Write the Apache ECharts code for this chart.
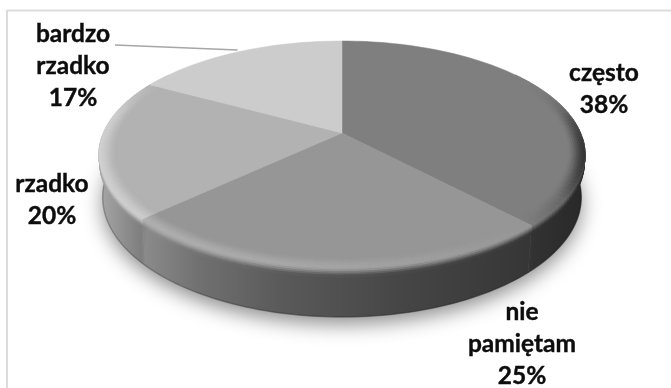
<!DOCTYPE html>
<html lang="pl">
<head>
<meta charset="utf-8">
<title>Wykres kołowy</title>
<style>
  html, body { margin: 0; padding: 0; background: #fff; }
  #chart { width: 671px; height: 388px; }
</style>
<script src="https://cdn.jsdelivr.net/npm/echarts@6/dist/echarts.min.js"></script>
</head>
<body>
<div id="chart"></div>
<script>
// Survey answers, clockwise from twelve o'clock
const categories = ['często', 'nie pamiętam', 'rzadko', 'bardzo rzadko'];
const shares = [38, 25, 20, 17];

// Grey of each slice's top face
const faceGreys = [127, 150, 178, 204];
// Centre of each slice label
const labelCentres = [[604, 89], [522, 344], [52, 200], [73, 66]];

// Perspective disc: apex position, radii, tilt and thickness in pixels
const disc = { cx: 342, cy: 133, a: 238.7, b: 109.4, k: 0.189, depth: 42, baseScale: 0.985 };
const bevelInner = 0.93;
const bevelDrop = 8;

// Lighting by screen x: side wall grey, and how far the bevel departs from the face
const wallShade = [[100, 166], [141, 126], [146, 138], [200, 112], [280, 90], [400, 70], [528, 54], [533, 50], [585, 40]];
const bevelShade = [[100, 30], [145, 26], [300, 17], [450, 7], [530, 0], [565, -25], [590, -85]];

function lookup(table, x) {
  if (x <= table[0][0]) return table[0][1];
  for (let i = 1; i < table.length; i++) {
    if (x <= table[i][0]) {
      const t = (x - table[i - 1][0]) / (table[i][0] - table[i - 1][0]);
      return table[i - 1][1] + t * (table[i][1] - table[i - 1][1]);
    }
  }
  return table[table.length - 1][1];
}
const smooth = (t) => { t = Math.min(1, Math.max(0, t)); return t * t * (3 - 2 * t); };
const grey = (g) => { const v = Math.round(Math.min(255, Math.max(0, g))); return `rgb(${v},${v},${v})`; };

// Horizontal gradient across the whole disc for the side wall
const wallX0 = wallShade[0][0];
const wallX1 = wallShade[wallShade.length - 1][0];
const wallFill = {
  type: 'linear', global: true, x: wallX0, y: 0, x2: wallX1, y2: 0,
  colorStops: wallShade.map(([x, g]) => ({ offset: (x - wallX0) / (wallX1 - wallX0), color: grey(g) }))
};

// Project a point on the disc: pct is the position around the circle in percent, r the radial fraction, h the drop in pixels
function project(pct, r, h) {
  const phi = pct / 100 * 2 * Math.PI;
  const sx = Math.sin(phi) * r;
  const z = -Math.cos(phi) * r;
  const d = 1 - disc.k * z;
  return [disc.cx + disc.a * sx / d, disc.cy + (disc.b * z + h) / d];
}
const depthOf = (pct) => -Math.cos(pct / 100 * 2 * Math.PI);
const wallEdge = (pct, h) => project(pct, 1 + (disc.baseScale - 1) * h / disc.depth, h);

function cell(p1, p2, p3, p4, g, z2) {
  const c = grey(g);
  return {
    type: 'polygon', z2, silent: true,
    shape: { points: [p1, p2, p3, p4] },
    style: { fill: c, stroke: c, lineWidth: 0.7 }
  };
}

function renderSlice(params, api) {
  const value = api.value(0);
  const start = api.value(1);
  const i = params.dataIndex;
  const face = faceGreys[i];
  const kids = [];

  // Side wall, only where it can be seen
  const wallStep = 0.4;
  const n = Math.max(1, Math.round(value / wallStep));
  const dp = value / n;
  const upper = [];
  const lower = [];
  for (let s = 0; s <= n; s++) {
    const pct = start + s * dp;
    if (depthOf(pct) < 0.05) continue;
    upper.push(wallEdge(pct, 0));
    lower.unshift(wallEdge(pct, disc.depth));
  }
  if (upper.length > 1) {
    kids.push({
      type: 'polygon', z2: 1, silent: true,
      shape: { points: upper.concat(lower) },
      style: { fill: wallFill, stroke: wallFill, lineWidth: 0.5 }
    });
    kids.push({
      type: 'polyline', z2: 1.5, silent: true,
      shape: { points: lower },
      style: { stroke: 'rgba(0,0,0,0.22)', lineWidth: 1.5, fill: 'none' }
    });
  }

  // Soft shoulder where the rim rolls over into the wall
  for (let s = 0; s < n; s++) {
    const p0 = start + s * dp;
    const p1 = p0 + dp;
    const mid = (p0 + p1) / 2;
    if (depthOf(p0) < 0.05 && depthOf(p1) < 0.05) continue;
    const midX = project(mid, 1, 0)[0];
    const wall = lookup(wallShade, midX);
    const rimGrey = face + lookup(bevelShade, midX) * smooth((depthOf(mid) + 0.6) / 0.5);
    const levels = [0, 1.5, 3, 4.5, 6, bevelDrop];
    for (let l = 0; l < levels.length - 1; l++) {
      const g = rimGrey + (wall - rimGrey) * smooth((levels[l] + levels[l + 1]) / 2 / bevelDrop);
      kids.push(cell(wallEdge(p0, levels[l]), wallEdge(p1, levels[l]), wallEdge(p1, levels[l + 1]), wallEdge(p0, levels[l + 1]), g, 1.8));
    }
  }

  // Top face
  const rim = [[disc.cx, disc.cy]];
  const arcSteps = Math.round(value * 2);
  for (let s = 0; s <= arcSteps; s++) rim.push(project(start + value * s / arcSteps, 1, 0));
  kids.push({
    type: 'polygon', z2: 2, silent: true,
    shape: { points: rim },
    style: { fill: grey(face), stroke: grey(face), lineWidth: 0.5 }
  });

  // Rounded rim catching the light towards the front
  const rings = 8;
  const bevelStep = 0.5;
  const m = Math.max(1, Math.round(value / bevelStep));
  const db = value / m;
  for (let s = 0; s < m; s++) {
    const p0 = start + s * db;
    const p1 = p0 + db;
    const mid = (p0 + p1) / 2;
    const fade = smooth((depthOf(mid) + 0.6) / 0.5);
    if (fade <= 0) continue;
    const shift = lookup(bevelShade, project(mid, 1, 0)[0]) * fade;
    for (let q = 0; q < rings; q++) {
      const r0 = bevelInner + (1 - bevelInner) * q / rings;
      const r1 = bevelInner + (1 - bevelInner) * (q + 1) / rings;
      const g = face + shift * smooth((q + 0.5) / rings);
      kids.push(cell(project(p0, r0, 0), project(p1, r0, 0), project(p1, r1, 0), project(p0, r1, 0), g, 3));
    }
  }

  // Slice label: name wrapped at the space, percent below
  kids.push({
    type: 'text', z2: 6, silent: true,
    style: {
      text: categories[i].replace(' ', '\n') + '\n' + value + '%',
      x: labelCentres[i][0], y: labelCentres[i][1],
      align: 'center', verticalAlign: 'middle',
      fill: '#0d0d0d', stroke: '#0d0d0d', lineWidth: 0.4,
      font: 'bold 24.5px Lato', lineHeight: 32
    }
  });

  // Leader from the smallest slice to its label
  if (i === shares.length - 1) {
    const tip = project(start + value / 2, 1, 0);
    kids.push({
      type: 'line', z2: 5, silent: true,
      shape: { x1: 115, y1: 45, x2: tip[0], y2: tip[1] - 2 },
      style: { stroke: '#a6a6a6', lineWidth: 1.5 }
    });
  }
  return { type: 'group', children: kids };
}

// Soft shadow under the disc
function renderShadow(params, api) {
  const pts = [];
  for (let p = 0; p < 100; p += 0.5) pts.push(project(p, disc.baseScale, disc.depth));
  return {
    type: 'polygon', z2: 0, silent: true,
    shape: { points: pts },
    style: {
      fill: '#bdbdbd',
      shadowBlur: 20, shadowOffsetX: 0, shadowOffsetY: 7,
      shadowColor: 'rgba(0,0,0,0.45)'
    }
  };
}

let running = 0;
const sliceRows = shares.map((v, i) => {
  const row = { name: categories[i], value: [v, running] };
  running += v;
  return row;
});

const chart = echarts.init(document.getElementById('chart'), null, { renderer: 'canvas' });
chart.setOption({
  animation: false,
  backgroundColor: '#ffffff',
  graphic: [
    { type: 'line', silent: true, shape: { x1: 7, y1: 10.5, x2: 671, y2: 10.5 }, style: { stroke: '#dcdcdc', lineWidth: 2 } },
    { type: 'line', silent: true, shape: { x1: 7, y1: 10, x2: 7, y2: 388 }, style: { stroke: '#dcdcdc', lineWidth: 2 } }
  ],
  series: [
    { type: 'custom', coordinateSystem: 'none', silent: true, renderItem: renderShadow, data: [[0]], z: 1 },
    { type: 'custom', coordinateSystem: 'none', silent: true, renderItem: renderSlice, data: sliceRows, z: 2 }
  ]
});
</script>
</body>
</html>
